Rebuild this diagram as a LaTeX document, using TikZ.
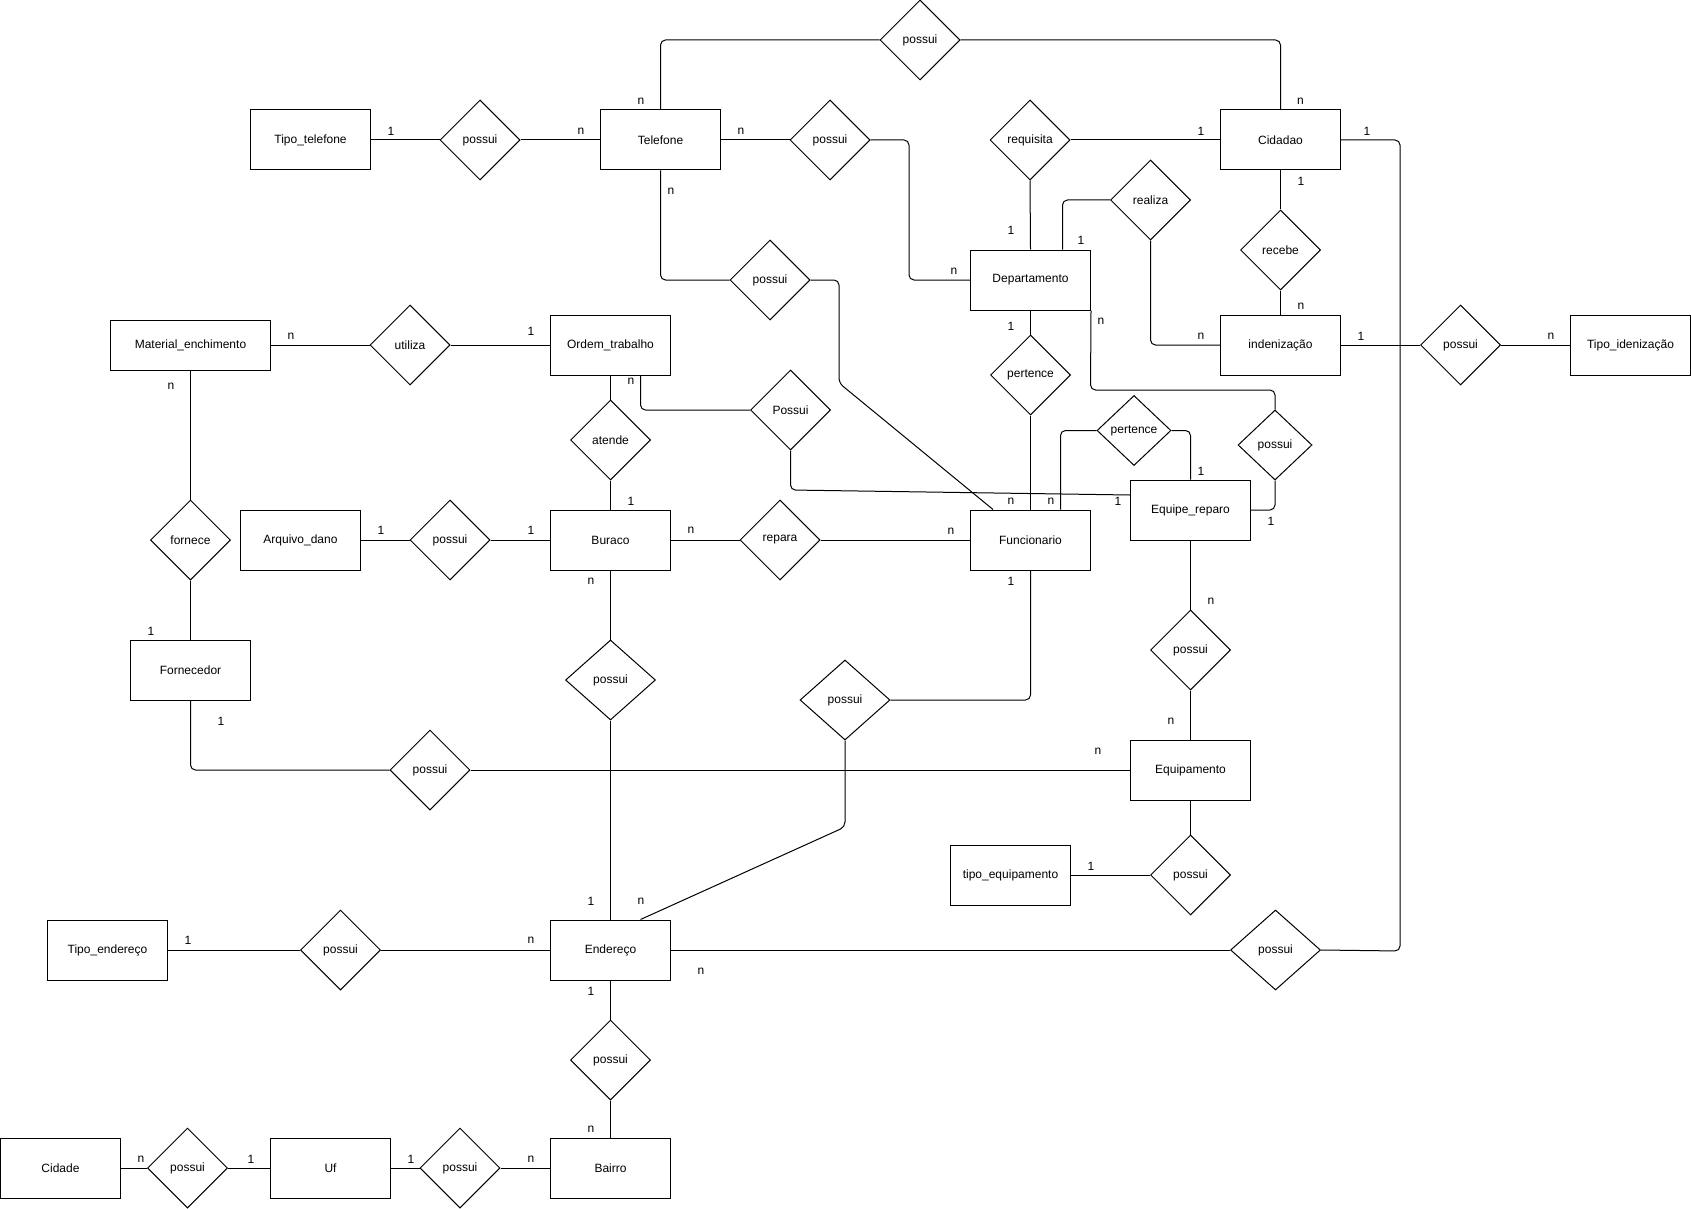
\documentclass[tikz,border=0pt]{standalone}
\usepackage{fontspec}
\setmainfont{Liberation Sans}
\usetikzlibrary{shapes.geometric}
\begin{document}
\begin{tikzpicture}[x=1pt,y=-1pt,
  txt/.style={font=\fontsize{12}{14}\selectfont},
  ent/.style={txt,draw,line width=1pt,minimum width=120pt,minimum height=60pt,inner sep=0pt},
  rel/.style={txt,draw,diamond,line width=1pt,minimum width=80pt,minimum height=80pt,inner sep=0pt},
  card/.style={txt,inner sep=0pt},
  conn/.style={line width=1pt,rounded corners=5pt}]
\useasboundingbox (0,0) rectangle (1691,1209);
% entities
\node[ent] (tipotel) at (310.5,140) {Tipo\_telefone};
\node[ent] (tel) at (660.5,140) {Telefone};
\node[ent] (cid) at (1280.5,140) {Cidadao};
\node[ent] (dep) at (1030.5,280) {Departamento};
\node[ent,minimum width=160pt,minimum height=50pt] (mat) at (190.5,345) {Material\_enchimento};
\node[ent] (ord) at (610.5,345) {Ordem\_trabalho};
\node[ent] (ind) at (1280.5,345) {indenização};
\node[ent] (tid) at (1630.5,345) {Tipo\_idenização};
\node[ent] (arq) at (300.5,540) {Arquivo\_dano};
\node[ent] (bur) at (610.5,540) {Buraco};
\node[ent] (fun) at (1030.5,540) {Funcionario};
\node[ent] (equ) at (1190.5,510) {Equipe\_reparo};
\node[ent] (fornc) at (190.5,670) {Fornecedor};
\node[ent] (eqp) at (1190.5,770) {Equipamento};
\node[ent] (teq) at (1010.5,875) {tipo\_equipamento};
\node[ent] (tend) at (107.5,950) {Tipo\_endereço};
\node[ent] (end) at (610.5,950) {Endereço};
\node[ent] (cidade) at (60.5,1168) {Cidade};
\node[ent] (uf) at (330.5,1168) {Uf};
\node[ent] (bai) at (610.5,1168) {Bairro};
% relationships
\node[rel] (ptop) at (920,40) {possui};
\node[rel] (p1) at (480,140) {possui};
\node[rel] (p2) at (830,140) {possui};
\node[rel] (req) at (1030,140) {requisita};
\node[rel] (real) at (1150.5,200) {realiza};
\node[rel] (rec) at (1280.5,250) {recebe};
\node[rel] (p3) at (770,280) {possui};
\node[rel] (util) at (410,345) {utiliza};
\node[rel] (p13) at (1460.5,345) {possui};
\node[rel] (pert) at (1030.5,375) {pertence};
\node[rel] (posO) at (790.5,410) {Possui};
\node[rel] (ate) at (610.5,440) {atende};
\node[rel,minimum width=74pt,minimum height=70pt] (pert2) at (1134,430.5) {pertence};
\node[rel,minimum width=74pt,minimum height=70pt] (p3b) at (1275,445) {possui};
\node[rel] (forn) at (190.5,540) {fornece};
\node[rel] (pab) at (450,540) {possui};
\node[rel] (rep) at (780,540) {repara};
\node[rel] (pee) at (1190.5,650) {possui};
\node[rel,minimum width=90pt] (pbe) at (610.5,680) {possui};
\node[rel,minimum width=90pt] (pfe) at (845,700) {possui};
\node[rel] (pfq) at (430,770) {possui};
\node[rel] (pte) at (1190.5,875) {possui};
\node[rel] (pte2) at (340.5,950) {possui};
\node[rel,minimum width=90pt] (pce) at (1275.5,950) {possui};
\node[rel] (peb) at (610.5,1060) {possui};
\node[rel] (pcu) at (187.5,1168) {possui};
\node[rel] (pub) at (460,1168) {possui};
% connectors
\draw[conn] (tel.north) |- (ptop.west);
\draw[conn] (ptop.east) -| (cid.north);
\draw[conn] (tipotel.east) -- (p1.west);
\draw[conn] (p1.east) -- (tel.west);
\draw[conn] (tel.east) -- (p2.west);
\draw[conn] (p2.east) -- (909,140) |- (dep.west);
\draw[conn] (req.east) -- (cid.west);
\draw[conn] (req.south) -- (dep.north);
\draw[conn] ([xshift=32pt]dep.north) |- (real.west);
\draw[conn] (real.south) |- (ind.west);
\draw[conn] (cid.south) -- (rec.north);
\draw[conn] (rec.south) -- (ind.north);
\draw[conn] (ind.east) -- (p13.west);
\draw[conn] (p13.east) -- (tid.west);
\draw[conn] (cid.east) -- (1400,140) -- (1400,951) -- (pce.east);
\draw[conn] (end.east) -- (pce.west);
\draw[conn] (tel.south) |- (p3.west);
\draw[conn] (p3.east) -- (839,280) -- (839,383) -- ([xshift=-37.5pt]fun.north);
\draw[conn] (mat.east) -- (util.west);
\draw[conn] (util.east) -- (ord.west);
\draw[conn] (mat.south) -- (forn.north);
\draw[conn] (forn.south) -- (fornc.north);
\draw[conn] (ord.south) -- (ate.north);
\draw[conn] (ate.south) -- (bur.north);
\draw[conn] ([xshift=30pt]ord.south) |- (posO.west);
\draw[conn] (posO.south) -- (790.5,490) -- ([yshift=15pt]equ.west);
\draw[conn] (arq.east) -- (pab.west);
\draw[conn] (pab.east) -- (bur.west);
\draw[conn] (bur.east) -- (rep.west);
\draw[conn] (rep.east) -- (fun.west);
\draw[conn] (dep.south) -- (pert.north);
\draw[conn] (pert.south) -- (fun.north);
\draw[conn] ([xshift=30pt]fun.north) |- (pert2.west);
\draw[conn] (pert2.east) -| (equ.north);
\draw[conn] (dep.south east) -- (1090.5,390) -| (p3b.north);
\draw[conn] (p3b.south) |- (equ.east);
\draw[conn] (equ.south) -- (pee.north);
\draw[conn] (pee.south) -- (eqp.north);
\draw[conn] (fun.south) |- (pfe.east);
\draw[conn] (pfe.south) -- (845,827) -- ([xshift=30pt]end.north);
\draw[conn] (bur.south) -- (pbe.north);
\draw[conn] (pbe.south) -- (end.north);
\draw[conn] (fornc.south) |- (pfq.west);
\draw[conn] (pfq.east) -- (eqp.west);
\draw[conn] (eqp.south) -- (pte.north);
\draw[conn] (teq.east) -- (pte.west);
\draw[conn] (tend.east) -- (pte2.west);
\draw[conn] (pte2.east) -- (end.west);
\draw[conn] (end.south) -- (peb.north);
\draw[conn] (peb.south) -- (bai.north);
\draw[conn] (cidade.east) -- (pcu.west);
\draw[conn] (pcu.east) -- (uf.west);
\draw[conn] (uf.east) -- (pub.west);
\draw[conn] (pub.east) -- (bai.west);
% cardinalities
\foreach \x/\y/\t [count=\i] in {
 641/101/n, 1300.5/101/n, 391/131/1, 581/131/n, 741/131/n, 1201/131/1, 1367/131/1,
 671/191/n, 1301/181/1, 1011/230/1, 1081/240/1, 954/271/n, 1301/306/n, 1201/336/n,
 1361/336/1, 1551/336/n, 1101/321/n, 1011/326/1, 291/336/n, 531/331/1, 171/386/n,
 631/381/n, 631/501/1, 1011/501/n, 1051/501/n, 1118/501/1, 1201/471/1, 1271/521/1,
 381/530/1, 531/530/1, 691/530/n, 951/531/n, 591/581/n, 1011/581/1, 1211/601/n,
 151/631/1, 221/721/1, 1171/721/n, 1098/751/n, 1091/866/1, 188/940/1, 531/940/n,
 591/901/1, 641/901/n, 701/971/n, 591/991/1, 591/1129/n, 141/1159/n, 251/1159/1,
 411/1159/1, 531/1159/n}
 {\node[card] (c\i) at (\x,\y) {\t};}
\end{tikzpicture}
\end{document}
